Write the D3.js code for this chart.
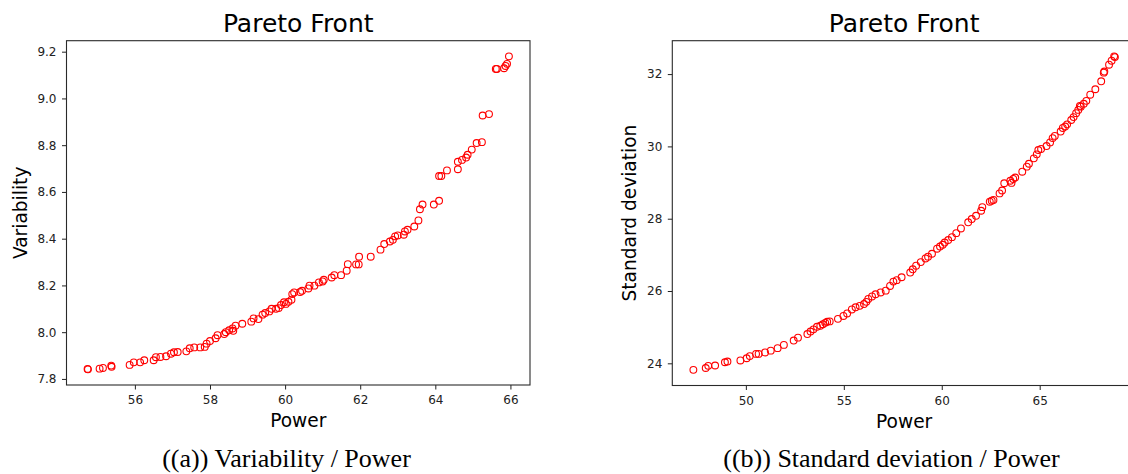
<!DOCTYPE html>
<html>
<head>
<meta charset="utf-8">
<script src="https://cdn.jsdelivr.net/npm/d3@7"></script>
<style>
  html, body { margin: 0; padding: 0; background: #fff; }
  svg { display: block; }
  .tick text { font-family: "DejaVu Sans", sans-serif; font-size: 12px; fill: #222; }
  .tick line { stroke: #222; }
</style>
</head>
<body>
<svg id="chart" width="1128" height="474"></svg>
<script>
// Panel (a): Pareto front, variability against power
const powerA = [
  54.74, 54.75, 55.06, 55.15, 55.37, 55.38, 55.86, 55.97, 56.14, 56.25,
  56.50, 56.56, 56.68, 56.83, 56.96, 57.04, 57.14, 57.37, 57.46, 57.58,
  57.74, 57.86, 57.91, 58.00, 58.15, 58.20, 58.38, 58.42, 58.51, 58.60,
  58.62, 58.68, 58.86, 59.10, 59.16, 59.29, 59.40, 59.47, 59.58, 59.64,
  59.76, 59.83, 59.89, 59.97, 60.02, 60.09, 60.17, 60.19, 60.24, 60.40,
  60.45, 60.62, 60.65, 60.78, 60.90, 61.00, 61.03, 61.24, 61.31, 61.49,
  61.64, 61.67, 61.89, 61.96, 61.97, 62.28, 62.54, 62.64, 62.79, 62.87,
  62.93, 63.00, 63.16, 63.19, 63.26, 63.44, 63.55, 63.59, 63.66, 63.96,
  64.10, 64.10, 64.16, 64.31, 64.60, 64.60, 64.71, 64.82, 64.86, 64.97,
  65.10, 65.24, 65.26, 65.43, 65.61, 65.64, 65.83, 65.87, 65.91, 65.96
];
const variabilityA = [
  7.843, 7.841, 7.844, 7.847, 7.857, 7.852, 7.860, 7.871, 7.871, 7.880,
  7.880, 7.893, 7.894, 7.897, 7.908, 7.914, 7.915, 7.918, 7.931, 7.935,
  7.935, 7.937, 7.951, 7.962, 7.974, 7.987, 7.992, 8.000, 8.008, 8.016,
  8.006, 8.028, 8.036, 8.045, 8.059, 8.056, 8.075, 8.082, 8.089, 8.100,
  8.100, 8.103, 8.116, 8.128, 8.121, 8.130, 8.139, 8.163, 8.170, 8.172,
  8.177, 8.187, 8.199, 8.199, 8.213, 8.217, 8.224, 8.234, 8.244, 8.244,
  8.263, 8.291, 8.290, 8.290, 8.323, 8.323, 8.353, 8.377, 8.388, 8.395,
  8.410, 8.414, 8.417, 8.431, 8.438, 8.452, 8.478, 8.526, 8.546, 8.546,
  8.562, 8.668, 8.668, 8.692, 8.697, 8.729, 8.737, 8.747, 8.759, 8.781,
  8.809, 8.813, 8.927, 8.933, 9.126, 9.126, 9.129, 9.139, 9.148, 9.180
];

// Panel (b): Pareto front, standard deviation against power
const powerB = [
  47.32, 47.95, 48.08, 48.43, 48.93, 49.06, 49.72, 50.04, 50.20, 50.52,
  50.65, 50.98, 51.27, 51.62, 51.94, 52.44, 52.66, 53.14, 53.30, 53.45,
  53.63, 53.80, 53.93, 54.05, 54.15, 54.28, 54.70, 54.98, 55.17, 55.41,
  55.60, 55.81, 56.03, 56.15, 56.25, 56.44, 56.62, 56.88, 57.14, 57.36,
  57.53, 57.70, 57.95, 58.39, 58.52, 58.69, 58.93, 59.17, 59.30, 59.50,
  59.76, 59.91, 60.05, 60.15, 60.33, 60.52, 60.74, 60.98, 61.35, 61.53,
  61.75, 62.01, 62.07, 62.45, 62.55, 62.64, 62.95, 63.08, 63.19, 63.50,
  63.56, 63.65, 63.75, 64.11, 64.34, 64.45, 64.70, 64.85, 64.93, 65.07,
  65.35, 65.53, 65.66, 65.77, 66.07, 66.18, 66.30, 66.40, 66.61, 66.73,
  66.86, 66.97, 67.05, 67.10, 67.25, 67.38, 67.58, 67.84, 68.14, 68.27,
  68.30, 68.54, 68.67, 68.80, 68.84
];
const stdDevB = [
  23.82, 23.87, 23.93, 23.94, 24.03, 24.05, 24.08, 24.14, 24.20, 24.26,
  24.26, 24.30, 24.35, 24.42, 24.51, 24.63, 24.71, 24.81, 24.88, 24.94,
  25.01, 25.04, 25.08, 25.12, 25.15, 25.16, 25.23, 25.31, 25.38, 25.49,
  25.55, 25.59, 25.64, 25.70, 25.78, 25.85, 25.91, 25.96, 26.01, 26.14,
  26.26, 26.30, 26.38, 26.51, 26.60, 26.70, 26.80, 26.90, 26.95, 27.03,
  27.17, 27.23, 27.28, 27.34, 27.41, 27.49, 27.60, 27.73, 27.90, 27.99,
  28.08, 28.22, 28.32, 28.47, 28.50, 28.52, 28.70, 28.78, 28.98, 29.05,
  28.99, 29.10, 29.14, 29.30, 29.44, 29.52, 29.67, 29.78, 29.90, 29.93,
  30.01, 30.11, 30.23, 30.29, 30.41, 30.51, 30.55, 30.61, 30.73, 30.81,
  30.92, 31.01, 31.12, 31.10, 31.18, 31.26, 31.43, 31.58, 31.80, 32.04,
  32.07, 32.26, 32.37, 32.49, 32.47
];

// Tick values
const ticksAX = [56, 58, 60, 62, 64, 66];
const ticksAY = [7.8, 8.0, 8.2, 8.4, 8.6, 8.8, 9.0, 9.2];
const ticksBX = [50, 55, 60, 65];
const ticksBY = [24, 26, 28, 30, 32];

// Text
const panelTitle = "Pareto Front";
const xLabel = "Power";
const yLabelA = "Variability";
const yLabelB = "Standard deviation";
const captionA = "((a)) Variability / Power";
const captionB = "((b)) Standard deviation / Power";

const svg = d3.select("#chart");
const sansFont = "'DejaVu Sans', sans-serif";
const serifFont = "'Liberation Serif', 'Times New Roman', serif";

// Axis limits padded by 5% of the data span on each side
function paddedExtent(values) {
  const [lo, hi] = d3.extent(values);
  const pad = (hi - lo) * 0.05;
  return [lo - pad, hi + pad];
}

function drawPanel(cfg) {
  const g = svg.append("g");
  const x = d3.scaleLinear().domain(paddedExtent(cfg.xs)).range([cfg.left, cfg.right]);
  const y = d3.scaleLinear().domain(paddedExtent(cfg.ys)).range([cfg.bottom, cfg.top]);

  // Points as open red circles
  const pts = cfg.xs.map((v, i) => [v, cfg.ys[i]]);
  g.append("g").selectAll("circle").data(pts).join("circle")
    .attr("cx", d => x(d[0]))
    .attr("cy", d => y(d[1]))
    .attr("r", 3.4)
    .attr("fill", "none")
    .attr("stroke", "#ff0000")
    .attr("stroke-width", 1.1);

  // Axes
  const xAxis = d3.axisBottom(x).tickValues(cfg.xTicks).tickFormat(d3.format("d"))
    .tickSizeInner(4.5).tickSizeOuter(0).tickPadding(6);
  const yAxis = d3.axisLeft(y).tickValues(cfg.yTicks).tickFormat(cfg.yFormat)
    .tickSizeInner(4.5).tickSizeOuter(0).tickPadding(5.5);
  const gx = g.append("g").attr("transform", `translate(0,${cfg.bottom})`).call(xAxis);
  const gy = g.append("g").attr("transform", `translate(${cfg.left},0)`).call(yAxis);
  gx.select(".domain").remove();
  gy.select(".domain").remove();
  g.selectAll(".tick line").attr("stroke-width", 1);

  // Frame
  g.append("rect")
    .attr("x", cfg.left).attr("y", cfg.top)
    .attr("width", cfg.right - cfg.left).attr("height", cfg.bottom - cfg.top)
    .attr("fill", "none").attr("stroke", "#2a2a2a").attr("stroke-width", 1.1);

  // Title
  g.append("text")
    .attr("x", (cfg.left + cfg.right) / 2).attr("y", 31.5)
    .attr("text-anchor", "middle")
    .attr("font-family", sansFont).attr("font-size", 25).attr("fill", "#000")
    .text(panelTitle);

  // Axis labels
  g.append("text")
    .attr("x", (cfg.left + cfg.right) / 2).attr("y", cfg.bottom + 42)
    .attr("text-anchor", "middle")
    .attr("font-family", sansFont).attr("font-size", 18.6).attr("fill", "#000")
    .text(xLabel);
  g.append("text")
    .attr("transform", `translate(${cfg.yLabelX},${(cfg.top + cfg.bottom) / 2}) rotate(-90)`)
    .attr("text-anchor", "middle")
    .attr("font-family", sansFont).attr("font-size", 18.6).attr("fill", "#000")
    .text(cfg.yLabel);

  // Caption under the panel
  g.append("text")
    .attr("x", cfg.captionX).attr("y", 466.5)
    .attr("text-anchor", "middle")
    .attr("font-family", serifFont).attr("font-size", 26).attr("fill", "#000")
    .text(cfg.caption);
}

drawPanel({
  xs: powerA, ys: variabilityA,
  left: 66.5, right: 530, top: 40.7, bottom: 385,
  xTicks: ticksAX, yTicks: ticksAY, yFormat: d3.format(".1f"),
  yLabel: yLabelA, yLabelX: 26.5,
  caption: captionA, captionX: 286.5
});

drawPanel({
  xs: powerB, ys: stdDevB,
  left: 672.3, right: 1136, top: 40.7, bottom: 385.5,
  xTicks: ticksBX, yTicks: ticksBY, yFormat: d3.format("d"),
  yLabel: yLabelB, yLabelX: 636,
  caption: captionB, captionX: 891.5
});
</script>
</body>
</html>
